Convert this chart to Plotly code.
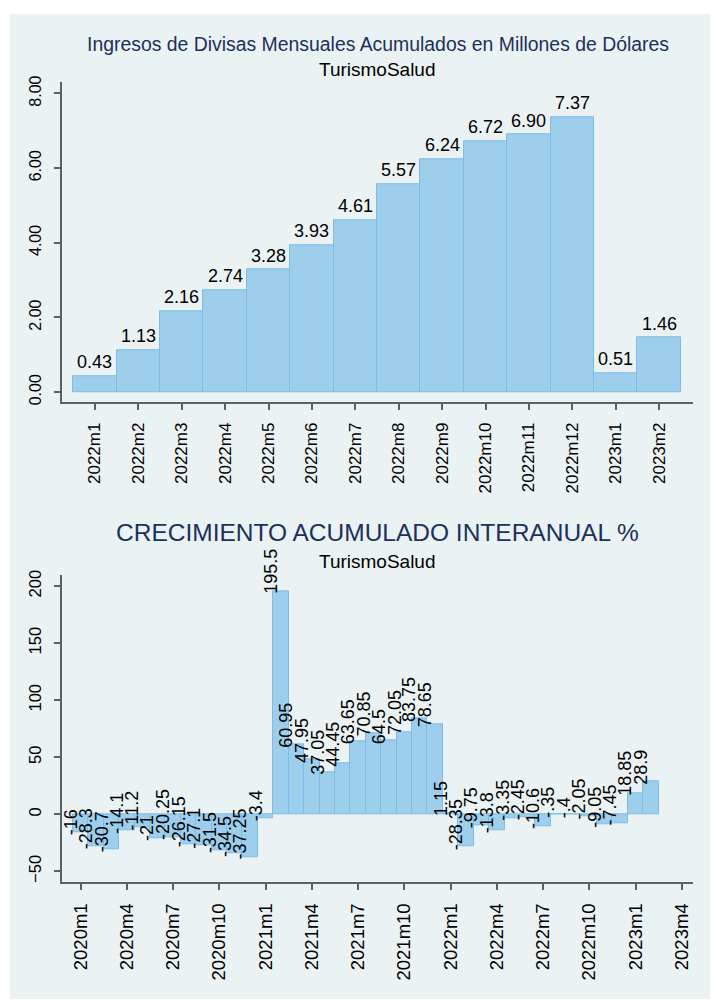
import plotly.graph_objects as go

# ---------------- data ----------------
top_months = ["2022m1", "2022m2", "2022m3", "2022m4", "2022m5", "2022m6", "2022m7",
              "2022m8", "2022m9", "2022m10", "2022m11", "2022m12", "2023m1", "2023m2"]
top_values = [0.43, 1.13, 2.16, 2.74, 3.28, 3.93, 4.61, 5.57, 6.24, 6.72, 6.90, 7.37, 0.51, 1.46]
top_yticks = [0, 2, 4, 6, 8]
top_yticklabels = ["0.00", "2.00", "4.00", "6.00", "8.00"]

growth_months = [f"{y}m{m}" for y in (2020, 2021, 2022) for m in range(1, 13)] + ["2023m1", "2023m2"]
growth_values = [-16, -28.3, -30.7, -14.1, -11.2, -21, -20.25, -26.15, -27.1, -31.5, -34.5, -37.25,
                 -3.4, 195.5, 60.95, 47.95, 37.05, 44.45, 63.65, 70.85, 64.5, 72.05, 83.75, 78.65,
                 1.15, -28.35, -9.75, -13.8, -3.35, -2.45, -10.6, -0.35, -0.4, -2.05, -9.05, -7.45,
                 18.85, 28.9]
growth_labels = ["-16", "-28.3", "-30.7", "-14.1", "-11.2", "-21", "-20.25", "-26.15", "-27.1", "-31.5", "-34.5", "-37.25",
                 "-3.4", "195.5", "60.95", "47.95", "37.05", "44.45", "63.65", "70.85", "64.5", "72.05", "83.75", "78.65",
                 "1.15", "-28.35", "-9.75", "-13.8", "-3.35", "-2.45", "-10.6", "-.35", "-.4", "-2.05", "-9.05", "-7.45",
                 "18.85", "28.9"]
bottom_tickvals = list(range(0, 40, 3))
bottom_ticktext = ["2020m1", "2020m4", "2020m7", "2020m10", "2021m1", "2021m4", "2021m7", "2021m10",
                   "2022m1", "2022m4", "2022m7", "2022m10", "2023m1", "2023m4"]
bottom_yticks = [-50, 0, 50, 100, 150, 200]

title_top = "Ingresos de Divisas Mensuales Acumulados en Millones de Dólares"
title_bottom = "CRECIMIENTO ACUMULADO INTERANUAL %"
subtitle = "TurismoSalud"

# ---------------- style ----------------
W, H = 716, 1006
FONT = "Liberation Sans"
BG = "rgb(234,242,243)"
BAR = "rgb(157,206,236)"
BAR_LINE = "rgb(126,188,230)"
AXIS = "rgb(95,95,95)"
NAVY = "rgb(28,48,92)"


def px_x(p):
    return p / W


def px_y(p):
    return 1 - p / H


fig = go.Figure()

fig.add_trace(go.Bar(
    x=list(range(len(top_values))), y=top_values, width=1.0,
    marker=dict(color=BAR, line=dict(color=BAR_LINE, width=1)),
    xaxis="x", yaxis="y", showlegend=False, hoverinfo="skip"))

fig.add_trace(go.Bar(
    x=list(range(len(growth_values))), y=growth_values, width=1.0,
    marker=dict(color=BAR, line=dict(color=BAR_LINE, width=1)),
    xaxis="x2", yaxis="y2", showlegend=False, hoverinfo="skip"))

annotations = []
for i, v in enumerate(top_values):
    annotations.append(dict(x=i, y=v, xref="x", yref="y", text=f"{v:.2f}",
                            showarrow=False, xanchor="center", yanchor="bottom",
                            yshift=2, font=dict(family=FONT, size=18, color="black")))
for i, (v, lab) in enumerate(zip(growth_values, growth_labels)):
    annotations.append(dict(x=i, y=v, xref="x2", yref="y2", text=lab, textangle=-90,
                            showarrow=False, xanchor="right", yanchor="bottom",
                            xshift=1, yshift=-4, borderpad=0,
                            font=dict(family=FONT, size=18, color="black")))

cx = px_x((62 + 693) / 2)
annotations += [
    dict(x=cx, y=px_y(37), xref="paper", yref="paper", text=title_top, showarrow=False,
         xanchor="center", yanchor="middle", font=dict(family=FONT, size=19.4, color=NAVY)),
    dict(x=cx, y=px_y(63), xref="paper", yref="paper", text=subtitle, showarrow=False,
         xanchor="center", yanchor="middle", font=dict(family=FONT, size=19, color="black")),
    dict(x=cx, y=px_y(531), xref="paper", yref="paper", text=title_bottom, showarrow=False,
         xanchor="center", yanchor="middle", font=dict(family=FONT, size=24.5, color=NAVY)),
    dict(x=cx, y=px_y(560), xref="paper", yref="paper", text=subtitle, showarrow=False,
         xanchor="center", yanchor="middle", font=dict(family=FONT, size=19, color="black")),
]

axis_common = dict(showline=True, linecolor=AXIS, linewidth=1.5, ticks="outside",
                   ticklen=6, tickwidth=1.5, tickcolor=AXIS, zeroline=False)

fig.update_layout(
    width=W, height=H, margin=dict(l=0, r=0, t=0, b=0),
    paper_bgcolor="white", plot_bgcolor="white", bargap=0,
    font=dict(family=FONT, color="black"),
    shapes=[dict(type="rect", xref="paper", yref="paper", layer="below",
                 x0=px_x(10), x1=px_x(710), y0=px_y(1002), y1=px_y(7),
                 fillcolor=BG, line=dict(width=0))],
    annotations=annotations,
    xaxis=dict(domain=[px_x(62), px_x(693)], anchor="y", range=[-0.76, 13.78],
               tickvals=list(range(len(top_months))), ticktext=top_months, tickangle=-90,
               tickfont=dict(size=17), showgrid=False, ticklabelstandoff=6, **axis_common),
    yaxis=dict(domain=[px_y(399), px_y(76)], anchor="x", range=[-0.265, 8.3],
               tickvals=top_yticks, ticktext=top_yticklabels, tickangle=-90,
               tickfont=dict(size=16), showgrid=True, gridcolor=BG, gridwidth=1.5,
               ticklabelstandoff=7, **axis_common),
    xaxis2=dict(domain=[px_x(62), px_x(693)], anchor="y2", range=[-1.21, 39.73],
                tickvals=bottom_tickvals, ticktext=bottom_ticktext, tickangle=-90,
                tickfont=dict(size=18.5), showgrid=False, ticklabelstandoff=6, **axis_common),
    yaxis2=dict(domain=[px_y(884), px_y(574)], anchor="x2", range=[-59.5, 209.5],
                tickvals=bottom_yticks, tickangle=-90,
                tickfont=dict(size=16.6), showgrid=True, gridcolor=BG, gridwidth=1.5,
                ticklabelstandoff=7, **axis_common),
)

fig.write_html("out.html", config={"displayModeBar": False},
               post_script="document.body.style.margin='0';document.body.style.padding='0';")
